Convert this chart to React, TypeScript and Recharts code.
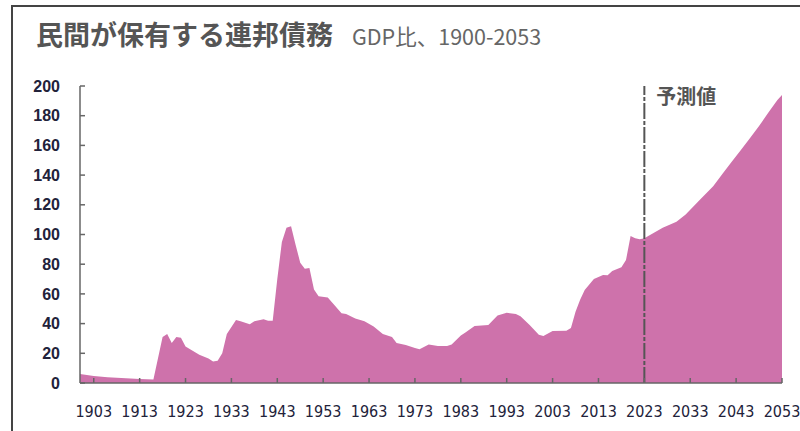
import React from 'react'
import {
  AreaChart,
  Area,
  XAxis,
  YAxis,
  ReferenceLine
} from 'recharts'

document.body.style.margin = '0'

// 年（横軸）
const years = [
  1900, 1903, 1906, 1910, 1913, 1916, 1918, 1919, 1920, 1921, 1922, 1923,
  1926, 1928, 1929, 1930, 1931, 1932, 1934, 1935, 1937, 1938, 1940, 1941,
  1942, 1943, 1944, 1945, 1946, 1947, 1948, 1949, 1950, 1951, 1952, 1954,
  1955, 1957, 1958, 1960, 1962, 1964, 1966, 1968, 1969, 1971, 1973, 1974,
  1976, 1978, 1980, 1981, 1983, 1984, 1986, 1989, 1991, 1993, 1995, 1996,
  1998, 2000, 2001, 2003, 2006, 2007, 2008, 2009, 2010, 2012, 2014, 2015,
  2016, 2018, 2019, 2020, 2021, 2022, 2023, 2025, 2027, 2030, 2032, 2035,
  2038, 2040, 2042, 2044, 2046, 2048, 2050, 2052, 2053
]

// 民間保有の連邦債務（GDP比、%）
const debt = [
  6, 4.7, 3.8, 3.2, 2.7, 2.3, 31, 33, 27, 31, 30.5, 24.5,
  19, 16.5, 14.5, 15, 20, 33, 42.5, 41.5, 39.5, 41.5, 43, 42,
  42, 70, 95, 104.5, 105.5, 93, 81, 77, 77.5, 63, 58.5, 57.5,
  54, 47, 46.5, 43.5, 41.5, 38, 33, 31, 27, 25.6, 23.5, 22.7,
  26, 25, 25, 26, 32, 34, 38.4, 39, 45.5, 47.3, 46.5, 45,
  39, 32.5, 31.6, 35, 35.2, 37, 48, 56, 62.6, 70, 72.7, 72.5,
  75.4, 78, 82.8, 99, 97.5, 96.8, 97.4, 101, 104.5, 108.6, 113.5, 123,
  132.5, 140.8, 148.8, 156.8, 164.8, 173, 182, 190.5, 194
]

const xTicks = [1903, 1913, 1923, 1933, 1943, 1953, 1963, 1973, 1983, 1993, 2003, 2013, 2023, 2033, 2043, 2053]
const yTicks = [0, 20, 40, 60, 80, 100, 120, 140, 160, 180, 200]

const forecastStart = 2023

const data = years.map((year, i) => ({ year, debt: debt[i] }))

const axisColor = '#666'
const tickColor = '#22223a'

export default function App() {
  return (
    <div style={{ position: 'relative', width: 800, height: 431, background: '#fff', overflow: 'hidden' }}>
      {/* 外枠 */}
      <div
        style={{
          position: 'absolute',
          left: 11,
          top: 5,
          width: 800,
          height: 440,
          borderTop: '2px solid #444',
          borderLeft: '2px solid #444'
        }}
      />
      <svg width={800} height={60} style={{ position: 'absolute', left: 0, top: 0 }}>
        <text
          x={36}
          y={45}
          fontFamily="'Noto Sans CJK JP', sans-serif"
          fontWeight={700}
          fontSize={27}
          fill="#555"
        >
          民間が保有する連邦債務
        </text>
        <text x={352} y={45} fontFamily="'Noto Sans CJK JP', sans-serif" fontSize={21.5} fill="#666">
          GDP比、1900-2053
        </text>
      </svg>
      <div style={{ position: 'absolute', left: 0, top: 0 }}>
        <AreaChart width={800} height={431} data={data} margin={{ top: 86, right: 18, bottom: 8, left: 0 }}>
          <XAxis
            dataKey="year"
            type="number"
            domain={[1900, 2053]}
            ticks={xTicks}
            interval={0}
            height={40}
            stroke={axisColor}
            strokeWidth={1.5}
            tickSize={-5}
            tickMargin={28}
            tickLine={{ stroke: axisColor, strokeWidth: 1.5 }}
            tick={{
              fontSize: 16,
              fill: tickColor,
              fontFamily: "'DejaVu Sans Condensed', 'Liberation Sans Narrow', sans-serif"
            }}
          />
          <YAxis
            type="number"
            domain={[0, 200]}
            ticks={yTicks}
            interval={0}
            width={80}
            stroke={axisColor}
            strokeWidth={1.5}
            tickSize={-5}
            tickMargin={25}
            tickLine={{ stroke: axisColor, strokeWidth: 1.5 }}
            tick={{
              fontSize: 16,
              fontWeight: 700,
              fill: tickColor,
              fontFamily: "'Liberation Sans', Arial, sans-serif"
            }}
          />
          <Area
            type="linear"
            dataKey="debt"
            stroke="none"
            fill="#ce72ab"
            fillOpacity={1}
            isAnimationActive={false}
          />
          <ReferenceLine
            x={forecastStart}
            stroke="#555"
            strokeWidth={2}
            strokeDasharray="16 2 4 2"
            label={({ viewBox }: any) => (
              <text
                x={viewBox.x + 12}
                y={viewBox.y + 18}
                fontFamily="'Noto Sans CJK JP', sans-serif"
                fontWeight={700}
                fontSize={20}
                fill="#555"
              >
                予測値
              </text>
            )}
          />
        </AreaChart>
      </div>
    </div>
  )
}
